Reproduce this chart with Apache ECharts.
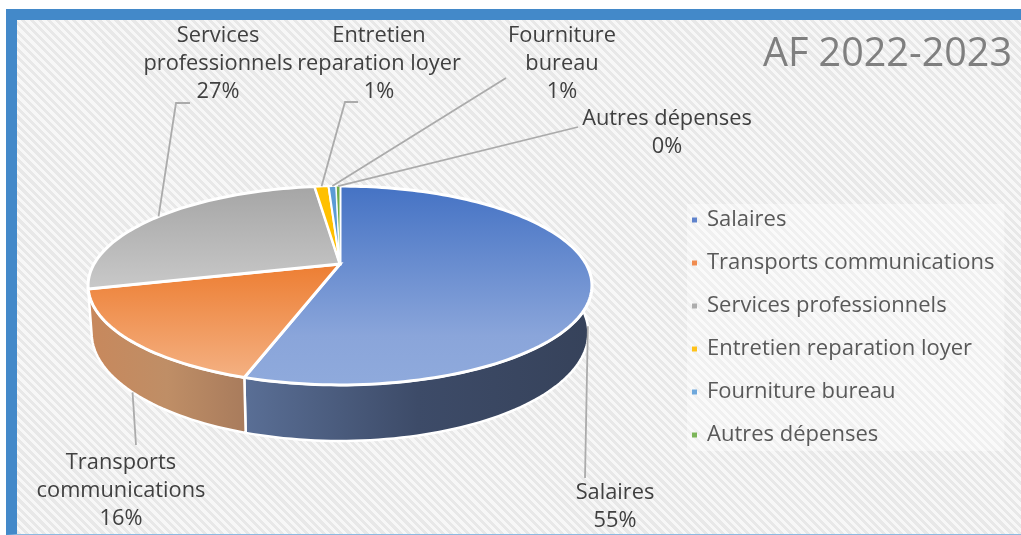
<!DOCTYPE html>
<html>
<head>
<meta charset="utf-8">
<script src="https://cdn.jsdelivr.net/npm/echarts@6/dist/echarts.min.js"></script>
<style>
html,body{margin:0;padding:0;background:#fff;width:1021px;height:535px;overflow:hidden}
#frame{position:absolute;left:6px;top:9px;width:1015px;height:514px;box-sizing:content-box;
 border-top:11px solid #4389C9;border-left:11px solid #4389C9;border-bottom:1px solid #8DB9E0;
 background:repeating-linear-gradient(45deg,#e8e8e8 0 3px,#f7f7f7 3px 6px)}
#chart{position:absolute;left:0;top:0;width:1021px;height:535px}
</style>
</head>
<body>
<div id="frame"></div>
<div id="chart"></div>
<script>
const titleText = 'AF 2022-2023';
const categories = ['Salaires','Transports communications','Services professionnels','Entretien reparation loyer','Fourniture bureau','Autres dépenses'];
const values = [55.0, 16.0, 27.0, 1.1, 0.6, 0.3];
const labelTexts = ['Salaires','Transports\ncommunications','Services\nprofessionnels','Entretien\nreparation loyer','Fourniture\nbureau','Autres dépenses'];

const legendColors = ['#5F83CC','#F08C50','#ADADAD','#FFC21A','#6FA8DC','#7DB65A'];
const topFaces = [
  [[0,'#4472C4'],[0.75,'#8AA5DA'],[1,'#8FAADC']],
  [[0,'#ED7D31'],[1,'#F4B183']],
  [[0,'#A5A5A5'],[1,'#C9C9C9']],
  [[0,'#FFC000'],[1,'#FFC000']],
  [[0,'#5B9BD5'],[1,'#5B9BD5']],
  [[0,'#70AD47'],[1,'#70AD47']]
];
const wallFaces = [
  [[0,'#5A6F96'],[0.5,'#3D4B68'],[1,'#36425A']],
  [[0,'#C8885C'],[0.5,'#BF8E66'],[1,'#A87B5C']],
  [[0,'#999'],[1,'#999']],[[0,'#C90'],[1,'#C90']],[[0,'#47A'],[1,'#47A']],[[0,'#584'],[1,'#584']]
];
// projection of the pie disc: top plane and bottom plane
const upper = {cx:340, cy:264, R:246, H:94.8, a:0.216};
const lower = {cx:340, cy:309.6, R:242.5, H:103, a:0.216};
function project(p, deg){
  const t = deg*Math.PI/180, u = Math.sin(t), v = Math.cos(t), w = 1+p.a*v;
  return [p.cx+p.R*u/w, p.cy-p.H*v/w];
}
// leader ends and label anchors (layout only)
const layout = [
  {via:[[585,478]], at:[615,478]},
  {via:[[136,445]], at:[121,448]},
  {via:[[176,103],[190,103]], at:[218,21]},
  {via:[[345,102],[358,102]], at:[379,21]},
  {via:[[506,78]], at:[562,21]},
  {via:[[578,127]], at:[667,104]}
];
const total = values.reduce((a,b)=>a+b,0);
const FONT = '"Open Sans"';
function arc(p, from, to){
  const n = Math.max(2, Math.ceil(Math.abs(to-from)/1.5)), out = [];
  for(let i=0;i<=n;i++) out.push(project(p, from+(to-from)*i/n));
  return out;
}
function grad(h, stops){
  return new echarts.graphic.LinearGradient(0,0,h?1:0,h?0:1,stops.map(s=>({offset:s[0],color:s[1]})));
}
const strokeWidths = [3,3,3,2.2,2,1];
function renderSlice(idx){
  return function(){
    const before = values.slice(0,idx).reduce((a,b)=>a+b,0);
    const from = before/total*360, to = (before+values[idx])/total*360, mid=(from+to)/2;
    const children = [];
    const front = Math.cos(mid*Math.PI/180)<0;
    const a0 = Math.max(from,90), a1 = Math.min(to,270);
    if(front && a1>a0){
      const pts = arc(upper,a0,a1).concat(arc(lower,a1,a0));
      children.push({type:'polygon',z2:1,shape:{points:pts},
        style:{fill:grad(true,wallFaces[idx]),stroke:'#fff',lineWidth:2.5,lineJoin:'round'}});
    }
    const topPts = [[upper.cx,upper.cy]].concat(arc(upper,from,to));
    children.push({type:'polygon',z2:idx>2?4:3,shape:{points:topPts},
      style:{fill:grad(false,topFaces[idx]),stroke:'#fff',lineWidth:strokeWidths[idx],lineJoin:'miter'}});
    const anchor = project(front?lower:upper, mid);
    children.push({type:'polyline',z2:5,shape:{points:[anchor].concat(layout[idx].via)},
      style:{fill:null,stroke:'#ABABAB',lineWidth:1.8}});
    const pct = Math.round(values[idx]/total*100)+'%';
    children.push({type:'text',z2:6,style:{text:labelTexts[idx]+'\n'+pct,x:layout[idx].at[0],y:layout[idx].at[1]+1,
      align:'center',verticalAlign:'top',fontFamily:FONT,fontSize:21.8,lineHeight:28,fill:'#404040'}});
    return {type:'group',children};
  };
}
const chart = echarts.init(document.getElementById('chart'),null,{renderer:'canvas'});
chart.setOption({
  animation:false,
  backgroundColor:'transparent',
  title:{text:titleText,right:4,top:30,textStyle:{color:'#7F7F7F',fontSize:39.5,fontWeight:'normal',fontFamily:FONT}},
  legend:{
    orient:'vertical',left:687,top:204,itemWidth:5,itemHeight:5,itemGap:21,icon:'rect',
    selectedMode:false,data:categories,backgroundColor:'rgba(255,255,255,0.35)',padding:[5,10,5,5],
    textStyle:{color:'#595959',fontSize:22,lineHeight:22,fontFamily:FONT,padding:[0,0,0,5]}
  },
  series:categories.map((name,i)=>({
    type:'custom',name,coordinateSystem:'none',silent:true,
    itemStyle:{color:legendColors[i]},
    data:[values[i]],
    renderItem:renderSlice(i)
  }))
});
</script>
</body>
</html>
